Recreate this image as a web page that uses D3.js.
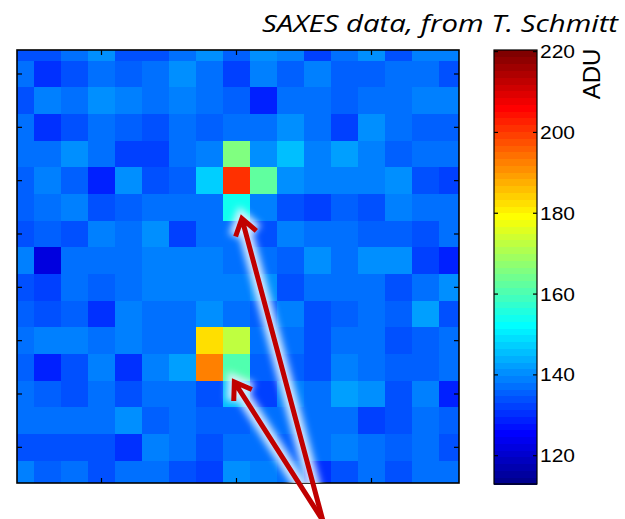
<!DOCTYPE html>
<html><head><meta charset="utf-8">
<script src="https://cdn.jsdelivr.net/npm/d3@7"></script>
<style>body{margin:0;background:#fff}svg{display:block}</style>
</head><body>
<svg id="chart" width="625" height="519"></svg>
<script>
// ---- data (ADU values, rows top->bottom, 17 columns each) ----
const rows = d3.range(17);
const cols = d3.range(17);
const r0  = [134.8,134.8,136.9,140.1,133.8,133.8,136.9,140.1,135.9,140.1,139.0,132.7,138.0,141.1,134.8,139.0,139.0];
const r1  = [136.9,130.6,134.8,138.0,135.9,136.9,141.1,138.0,132.7,139.0,135.4,139.6,135.9,135.9,137.5,138.0,134.8];
const r2  = [134.8,138.5,136.9,140.6,139.6,137.5,138.5,137.5,135.9,129.6,138.0,137.5,135.9,136.9,137.5,139.0,139.0];
const r3  = [136.9,131.1,134.8,137.5,135.9,134.8,137.5,136.4,138.0,136.9,140.1,138.0,132.7,140.1,138.0,135.9,135.9];
const r4  = [137.5,137.5,141.1,138.0,131.7,131.7,138.0,138.5,166.7,141.1,145.4,138.5,143.2,138.5,135.9,136.9,136.9];
const r5  = [136.4,138.5,135.4,128.5,140.1,134.8,136.4,147.5,200.5,162.0,140.1,138.5,138.5,138.5,140.1,134.3,131.7];
const r6  = [136.4,136.9,139.6,134.8,135.9,136.9,136.9,138.0,154.0,138.5,133.8,132.2,135.9,133.8,139.0,138.0,138.0];
const r7  = [133.8,135.9,134.8,139.6,138.0,141.1,131.7,138.0,138.0,134.8,138.5,138.0,136.9,135.4,135.4,133.2,136.9];
const r8  = [139.0,121.6,138.0,138.0,138.0,138.5,138.5,139.0,136.9,136.9,135.9,140.1,138.0,141.1,141.1,132.2,129.6];
const r9  = [134.8,132.7,138.0,136.4,137.5,138.5,138.5,138.5,139.0,141.1,134.8,136.9,138.0,138.0,134.3,137.5,141.1];
const r10 = [135.9,134.3,135.9,130.6,139.0,136.9,136.9,140.1,138.0,135.9,139.0,134.8,135.9,136.9,136.4,143.2,133.8];
const r11 = [136.9,139.0,139.0,137.5,139.0,137.5,137.5,182.0,173.0,138.0,136.9,134.8,138.0,137.5,133.8,136.4,137.5];
const r12 = [135.9,129.6,133.8,138.5,130.6,138.5,141.7,192.0,160.0,136.4,135.4,134.8,138.5,136.9,135.9,136.4,138.0];
const r13 = [136.9,135.9,134.3,137.5,133.2,136.9,136.9,134.8,145.0,131.7,138.5,136.9,142.2,141.1,133.8,139.0,129.6];
const r14 = [138.0,138.0,137.5,137.5,141.1,135.4,138.0,135.9,135.9,136.9,136.9,136.9,136.9,132.7,133.8,136.9,135.9];
const r15 = [133.8,133.2,134.3,134.3,131.1,139.6,136.9,134.8,138.0,138.0,135.9,136.9,139.0,138.0,135.9,138.0,134.8];
const r16 = [139.0,135.9,137.5,133.8,136.9,136.9,134.3,131.7,140.1,139.0,138.0,130.6,134.8,138.0,133.8,138.0,136.9];
const values = [r0,r1,r2,r3,r4,r5,r6,r7,r8,r9,r10,r11,r12,r13,r14,r15,r16];
const colorLimits = [113, 220.4];
const colorbarTicks = [120, 140, 160, 180, 200, 220];
const xTickCols = [3, 8, 13];
const yTickRows = [1, 3, 5, 7, 9, 11, 13, 15];
const titleText = "SAXES data, from T. Schmitt";
const colorbarLabel = "ADU";
// arrows: common base -> tip, in (column,row) data units
const arrowBase = [11.2, 17.75];
const arrowTips = [[8.2, 6.42], [7.92, 12.55]];

// ---- jet colormap (MATLAB jet(64)) ----
const M = 64;
function jet(t){
  const c = v => Math.max(0, Math.min(1, v));
  const r = c(1.5 - Math.abs(4*t - 3)), g = c(1.5 - Math.abs(4*t - 2)), b = c(1.5 - Math.abs(4*t - 1));
  return d3.rgb(r*255, g*255, b*255).formatHex();
}
function colorOf(v){
  const [lo, hi] = colorLimits;
  let i = Math.floor((v - lo) / (hi - lo) * M) + 1;
  i = Math.max(1, Math.min(M, i));
  return jet(i / M);
}

const svg = d3.select("#chart");
const plot = {left: 17, right: 459, top: 50, bottom: 483};
const x = d3.scaleLinear().domain([-0.5, 16.5]).range([7, 466]);
const y = d3.scaleLinear().domain([-0.5, 16.5]).range([34, 487.33]);

const defs = svg.append("defs");
defs.append("clipPath").attr("id","plotclip").append("rect")
  .attr("x", plot.left).attr("y", plot.top)
  .attr("width", plot.right - plot.left).attr("height", plot.bottom - plot.top);
const glow = defs.append("filter").attr("id","glow")
  .attr("x","-50%").attr("y","-50%").attr("width","200%").attr("height","200%");
glow.append("feGaussianBlur").attr("stdDeviation", 3.5);

// heatmap
const cells = [];
rows.forEach(r => cols.forEach(c => cells.push({r, c, v: values[r][c]})));
svg.append("g").attr("clip-path","url(#plotclip)")
  .selectAll("rect").data(cells).join("rect")
  .attr("x", d => x(d.c - 0.5)).attr("y", d => y(d.r - 0.5))
  .attr("width", x(1) - x(0) + 0.5).attr("height", y(1) - y(0) + 0.5)
  .attr("fill", d => colorOf(d.v))
  .attr("shape-rendering","crispEdges");

// axes box & inward ticks
const ax = svg.append("g").attr("stroke","#000").attr("fill","none");
ax.append("rect").attr("x", plot.left).attr("y", plot.top)
  .attr("width", plot.right - plot.left).attr("height", plot.bottom - plot.top)
  .attr("stroke-width", 1.6);
const tl = 5;
xTickCols.forEach(c => {
  ax.append("line").attr("x1", x(c)).attr("x2", x(c)).attr("y1", plot.top).attr("y2", plot.top + tl);
  ax.append("line").attr("x1", x(c)).attr("x2", x(c)).attr("y1", plot.bottom).attr("y2", plot.bottom - tl);
});
yTickRows.forEach(r => {
  ax.append("line").attr("y1", y(r)).attr("y2", y(r)).attr("x1", plot.left).attr("x2", plot.left + tl);
  ax.append("line").attr("y1", y(r)).attr("y2", y(r)).attr("x1", plot.right).attr("x2", plot.right - tl);
});
ax.selectAll("line").attr("stroke-width", 1.2);

// colorbar
const cb = {x: 494, w: 43, top: 50, bottom: 484};
const cy = d3.scaleLinear().domain(colorLimits).range([cb.bottom, cb.top]);
const dv = (colorLimits[1] - colorLimits[0]) / M;
const bands = d3.range(1, M + 1);
svg.append("g").selectAll("rect").data(bands).join("rect")
  .attr("x", cb.x).attr("width", cb.w)
  .attr("y", k => cy(colorLimits[0] + k*dv))
  .attr("height", k => cy(colorLimits[0] + (k-1)*dv) - cy(colorLimits[0] + k*dv) + 0.6)
  .attr("fill", k => jet(k / M))
  .attr("shape-rendering","crispEdges");
svg.append("rect").attr("x", cb.x).attr("y", cb.top).attr("width", cb.w).attr("height", cb.bottom - cb.top)
  .attr("fill","none").attr("stroke","#000").attr("stroke-width", 1.2);
const cbAxis = d3.axisRight(cy).tickValues(colorbarTicks).tickSize(0).tickPadding(3);
const cbg = svg.append("g").attr("transform", `translate(${cb.x + cb.w},0)`).call(cbAxis);
cbg.select(".domain").remove();
cbg.selectAll("text").attr("font-family","Liberation Sans, Arial, sans-serif")
  .attr("font-size", 19).attr("fill","#000")
  .attr("textLength", 35).attr("lengthAdjust","spacingAndGlyphs");
const tk = svg.append("g").attr("stroke","#000").attr("stroke-width",1.2);
colorbarTicks.forEach(v => {
  tk.append("line").attr("x1", cb.x).attr("x2", cb.x + 4).attr("y1", cy(v)).attr("y2", cy(v));
  tk.append("line").attr("x1", cb.x + cb.w).attr("x2", cb.x + cb.w - 4).attr("y1", cy(v)).attr("y2", cy(v));
});
svg.append("text").attr("transform","translate(600,74) rotate(-90)")
  .attr("text-anchor","middle").attr("font-family","Liberation Sans, Arial, sans-serif")
  .attr("font-size", 24).text(colorbarLabel);

// title
svg.append("text").attr("x", 618).attr("y", 31.5).attr("text-anchor","end")
  .attr("font-family","'Open Sans', Lato, sans-serif").attr("font-style","italic")
  .attr("font-size", 24).attr("fill","#000")
  .attr("textLength", 356).attr("lengthAdjust","spacingAndGlyphs").text(titleText);

// arrows
function arrowPath(base, tip){
  const bx = x(base[0]), by = y(base[1]), tx = x(tip[0]), ty = y(tip[1]);
  const dx = tx - bx, dy = ty - by, L = Math.hypot(dx, dy);
  const ux = dx / L, uy = dy / L, h = 19, a = 0.6;
  const w1 = [tx - h*(ux*Math.cos(a) - uy*Math.sin(a)), ty - h*(uy*Math.cos(a) + ux*Math.sin(a))];
  const w2 = [tx - h*(ux*Math.cos(a) + uy*Math.sin(a)), ty - h*(uy*Math.cos(a) - ux*Math.sin(a))];
  return `M${bx},${by}L${tx},${ty}M${w1[0]},${w1[1]}L${tx},${ty}L${w2[0]},${w2[1]}`;
}
const ag = svg.append("g");
ag.append("g").attr("clip-path","url(#plotclip)").selectAll("path").data(arrowTips).join("path")
  .attr("d", t => arrowPath(arrowBase, t)).attr("fill","none")
  .attr("stroke","#dff0ff").attr("stroke-width", 14).attr("stroke-opacity", 0.95)
  .attr("filter","url(#glow)");
ag.append("g").selectAll("path").data(arrowTips).join("path")
  .attr("d", t => arrowPath(arrowBase, t)).attr("fill","none")
  .attr("stroke","#c00000").attr("stroke-width", 5).attr("stroke-linejoin","miter")
  .attr("stroke-linecap","butt");
</script>
</body></html>
